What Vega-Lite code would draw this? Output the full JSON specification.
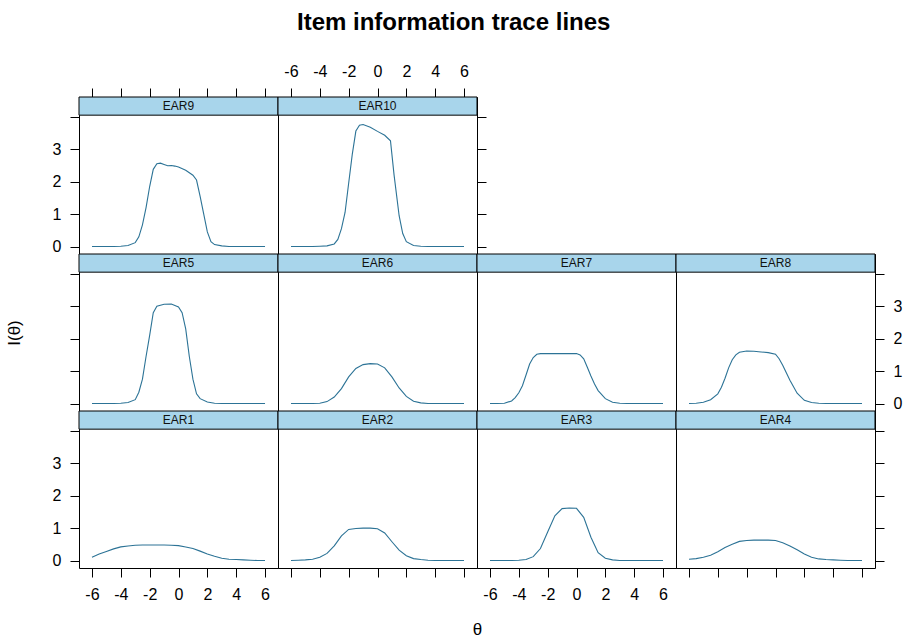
{
  "$schema": "https://vega.github.io/schema/vega-lite/v6.json",
  "background": "white",
  "padding": {"left": 5, "top": 10, "right": 5, "bottom": 0},
  "title": {"text": "Item information trace lines", "font": "Liberation Sans", "fontSize": 24, "fontWeight": "bold", "color": "#000", "anchor": "middle", "offset": 28},
  "columns": 4,
  "spacing": 0,
  "bounds": "flush",
  "config": {
    "view": {"stroke": "#000", "strokeWidth": 1},
    "axis": {"domain": false, "grid": false, "ticks": true, "tickColor": "#000", "tickSize": 9, "tickWidth": 1, "labelFont": "Liberation Sans", "labelFontSize": 16, "labelColor": "#000", "labelPadding": 9, "labelFlush": false, "labelOverlap": false, "titleFont": "Liberation Sans", "titleFontSize": 17, "titleFontWeight": "normal", "titleColor": "#000"}
  },
  "datasets": {
    "strips": [{"item": "EAR1"}, {"item": "EAR2"}, {"item": "EAR3"}, {"item": "EAR4"}, {"item": "EAR5"}, {"item": "EAR6"}, {"item": "EAR7"}, {"item": "EAR8"}, {"item": "EAR9"}, {"item": "EAR10"}],
    "info": [
      {"item":"EAR1","theta":-6,"info":0.10},{"item":"EAR1","theta":-5.5,"info":0.20},{"item":"EAR1","theta":-5,"info":0.28},{"item":"EAR1","theta":-4.5,"info":0.36},{"item":"EAR1","theta":-4,"info":0.42},{"item":"EAR1","theta":-3.5,"info":0.45},{"item":"EAR1","theta":-3,"info":0.47},{"item":"EAR1","theta":-2.5,"info":0.48},{"item":"EAR1","theta":-2,"info":0.48},{"item":"EAR1","theta":-1.5,"info":0.48},{"item":"EAR1","theta":-1,"info":0.48},{"item":"EAR1","theta":-0.5,"info":0.47},{"item":"EAR1","theta":0,"info":0.46},{"item":"EAR1","theta":0.5,"info":0.42},{"item":"EAR1","theta":1,"info":0.37},{"item":"EAR1","theta":1.5,"info":0.29},{"item":"EAR1","theta":2,"info":0.20},{"item":"EAR1","theta":2.5,"info":0.13},{"item":"EAR1","theta":3,"info":0.07},{"item":"EAR1","theta":3.5,"info":0.04},{"item":"EAR1","theta":4,"info":0.03},{"item":"EAR1","theta":4.5,"info":0.02},{"item":"EAR1","theta":5,"info":0.01},{"item":"EAR1","theta":5.5,"info":0.0},{"item":"EAR1","theta":6,"info":0.0},
      {"item":"EAR2","theta":-6,"info":0},{"item":"EAR2","theta":-5.5,"info":0.01},{"item":"EAR2","theta":-5,"info":0.02},{"item":"EAR2","theta":-4.5,"info":0.04},{"item":"EAR2","theta":-4,"info":0.10},{"item":"EAR2","theta":-3.5,"info":0.22},{"item":"EAR2","theta":-3,"info":0.45},{"item":"EAR2","theta":-2.5,"info":0.76},{"item":"EAR2","theta":-2,"info":0.96},{"item":"EAR2","theta":-1.5,"info":0.99},{"item":"EAR2","theta":-1,"info":1.0},{"item":"EAR2","theta":-0.5,"info":1.0},{"item":"EAR2","theta":0,"info":0.98},{"item":"EAR2","theta":0.5,"info":0.85},{"item":"EAR2","theta":1,"info":0.58},{"item":"EAR2","theta":1.5,"info":0.32},{"item":"EAR2","theta":2,"info":0.15},{"item":"EAR2","theta":2.5,"info":0.06},{"item":"EAR2","theta":3,"info":0.03},{"item":"EAR2","theta":3.5,"info":0.01},{"item":"EAR2","theta":4,"info":0},{"item":"EAR2","theta":4.5,"info":0},{"item":"EAR2","theta":5,"info":0},{"item":"EAR2","theta":5.5,"info":0},{"item":"EAR2","theta":6,"info":0},
      {"item":"EAR3","theta":-6,"info":0},{"item":"EAR3","theta":-5.5,"info":0},{"item":"EAR3","theta":-5,"info":0},{"item":"EAR3","theta":-4.5,"info":0},{"item":"EAR3","theta":-4,"info":0.01},{"item":"EAR3","theta":-3.5,"info":0.03},{"item":"EAR3","theta":-3,"info":0.12},{"item":"EAR3","theta":-2.5,"info":0.37},{"item":"EAR3","theta":-2,"info":0.88},{"item":"EAR3","theta":-1.5,"info":1.38},{"item":"EAR3","theta":-1,"info":1.60},{"item":"EAR3","theta":-0.5,"info":1.62},{"item":"EAR3","theta":0,"info":1.61},{"item":"EAR3","theta":0.5,"info":1.33},{"item":"EAR3","theta":1,"info":0.72},{"item":"EAR3","theta":1.5,"info":0.24},{"item":"EAR3","theta":2,"info":0.07},{"item":"EAR3","theta":2.5,"info":0.02},{"item":"EAR3","theta":3,"info":0},{"item":"EAR3","theta":3.5,"info":0},{"item":"EAR3","theta":4,"info":0},{"item":"EAR3","theta":4.5,"info":0},{"item":"EAR3","theta":5,"info":0},{"item":"EAR3","theta":5.5,"info":0},{"item":"EAR3","theta":6,"info":0},
      {"item":"EAR4","theta":-6,"info":0.04},{"item":"EAR4","theta":-5.5,"info":0.06},{"item":"EAR4","theta":-5,"info":0.10},{"item":"EAR4","theta":-4.5,"info":0.16},{"item":"EAR4","theta":-4,"info":0.27},{"item":"EAR4","theta":-3.5,"info":0.40},{"item":"EAR4","theta":-3,"info":0.50},{"item":"EAR4","theta":-2.5,"info":0.59},{"item":"EAR4","theta":-2,"info":0.62},{"item":"EAR4","theta":-1.5,"info":0.63},{"item":"EAR4","theta":-1,"info":0.63},{"item":"EAR4","theta":-0.5,"info":0.63},{"item":"EAR4","theta":0,"info":0.62},{"item":"EAR4","theta":0.5,"info":0.55},{"item":"EAR4","theta":1,"info":0.45},{"item":"EAR4","theta":1.5,"info":0.33},{"item":"EAR4","theta":2,"info":0.20},{"item":"EAR4","theta":2.5,"info":0.10},{"item":"EAR4","theta":3,"info":0.05},{"item":"EAR4","theta":3.5,"info":0.03},{"item":"EAR4","theta":4,"info":0.02},{"item":"EAR4","theta":4.5,"info":0.01},{"item":"EAR4","theta":5,"info":0},{"item":"EAR4","theta":5.5,"info":0},{"item":"EAR4","theta":6,"info":0},
      {"item":"EAR5","theta":-6,"info":0},{"item":"EAR5","theta":-5.5,"info":0},{"item":"EAR5","theta":-5,"info":0},{"item":"EAR5","theta":-4.5,"info":0},{"item":"EAR5","theta":-4,"info":0.01},{"item":"EAR5","theta":-3.5,"info":0.03},{"item":"EAR5","theta":-3,"info":0.12},{"item":"EAR5","theta":-2.75,"info":0.35},{"item":"EAR5","theta":-2.5,"info":0.75},{"item":"EAR5","theta":-2.25,"info":1.45},{"item":"EAR5","theta":-2,"info":2.10},{"item":"EAR5","theta":-1.75,"info":2.80},{"item":"EAR5","theta":-1.5,"info":3.00},{"item":"EAR5","theta":-1,"info":3.06},{"item":"EAR5","theta":-0.5,"info":3.07},{"item":"EAR5","theta":0,"info":2.98},{"item":"EAR5","theta":0.25,"info":2.80},{"item":"EAR5","theta":0.5,"info":2.30},{"item":"EAR5","theta":0.75,"info":1.45},{"item":"EAR5","theta":1,"info":0.75},{"item":"EAR5","theta":1.25,"info":0.30},{"item":"EAR5","theta":1.5,"info":0.15},{"item":"EAR5","theta":2,"info":0.05},{"item":"EAR5","theta":2.5,"info":0.01},{"item":"EAR5","theta":3,"info":0},{"item":"EAR5","theta":3.5,"info":0},{"item":"EAR5","theta":4,"info":0},{"item":"EAR5","theta":4.5,"info":0},{"item":"EAR5","theta":5,"info":0},{"item":"EAR5","theta":5.5,"info":0},{"item":"EAR5","theta":6,"info":0},
      {"item":"EAR6","theta":-6,"info":0},{"item":"EAR6","theta":-5.5,"info":0},{"item":"EAR6","theta":-5,"info":0},{"item":"EAR6","theta":-4.5,"info":0},{"item":"EAR6","theta":-4,"info":0.01},{"item":"EAR6","theta":-3.5,"info":0.06},{"item":"EAR6","theta":-3,"info":0.20},{"item":"EAR6","theta":-2.5,"info":0.46},{"item":"EAR6","theta":-2,"info":0.82},{"item":"EAR6","theta":-1.5,"info":1.08},{"item":"EAR6","theta":-1,"info":1.20},{"item":"EAR6","theta":-0.5,"info":1.23},{"item":"EAR6","theta":0,"info":1.22},{"item":"EAR6","theta":0.5,"info":1.10},{"item":"EAR6","theta":1,"info":0.82},{"item":"EAR6","theta":1.5,"info":0.48},{"item":"EAR6","theta":2,"info":0.22},{"item":"EAR6","theta":2.5,"info":0.07},{"item":"EAR6","theta":3,"info":0.02},{"item":"EAR6","theta":3.5,"info":0},{"item":"EAR6","theta":4,"info":0},{"item":"EAR6","theta":4.5,"info":0},{"item":"EAR6","theta":5,"info":0},{"item":"EAR6","theta":5.5,"info":0},{"item":"EAR6","theta":6,"info":0},
      {"item":"EAR7","theta":-6,"info":0},{"item":"EAR7","theta":-5.5,"info":0},{"item":"EAR7","theta":-5,"info":0.01},{"item":"EAR7","theta":-4.5,"info":0.08},{"item":"EAR7","theta":-4.25,"info":0.18},{"item":"EAR7","theta":-4,"info":0.33},{"item":"EAR7","theta":-3.75,"info":0.55},{"item":"EAR7","theta":-3.5,"info":0.88},{"item":"EAR7","theta":-3.25,"info":1.22},{"item":"EAR7","theta":-3,"info":1.42},{"item":"EAR7","theta":-2.75,"info":1.52},{"item":"EAR7","theta":-2.5,"info":1.54},{"item":"EAR7","theta":-2,"info":1.54},{"item":"EAR7","theta":-1.5,"info":1.54},{"item":"EAR7","theta":-1,"info":1.54},{"item":"EAR7","theta":-0.5,"info":1.54},{"item":"EAR7","theta":0,"info":1.54},{"item":"EAR7","theta":0.25,"info":1.50},{"item":"EAR7","theta":0.5,"info":1.38},{"item":"EAR7","theta":0.75,"info":1.12},{"item":"EAR7","theta":1,"info":0.85},{"item":"EAR7","theta":1.25,"info":0.60},{"item":"EAR7","theta":1.5,"info":0.40},{"item":"EAR7","theta":2,"info":0.15},{"item":"EAR7","theta":2.5,"info":0.04},{"item":"EAR7","theta":3,"info":0.01},{"item":"EAR7","theta":3.5,"info":0},{"item":"EAR7","theta":4,"info":0},{"item":"EAR7","theta":4.5,"info":0},{"item":"EAR7","theta":5,"info":0},{"item":"EAR7","theta":5.5,"info":0},{"item":"EAR7","theta":6,"info":0},
      {"item":"EAR8","theta":-6,"info":0},{"item":"EAR8","theta":-5.5,"info":0.01},{"item":"EAR8","theta":-5,"info":0.04},{"item":"EAR8","theta":-4.5,"info":0.12},{"item":"EAR8","theta":-4,"info":0.30},{"item":"EAR8","theta":-3.75,"info":0.50},{"item":"EAR8","theta":-3.5,"info":0.78},{"item":"EAR8","theta":-3.25,"info":1.10},{"item":"EAR8","theta":-3,"info":1.35},{"item":"EAR8","theta":-2.75,"info":1.50},{"item":"EAR8","theta":-2.5,"info":1.58},{"item":"EAR8","theta":-2,"info":1.62},{"item":"EAR8","theta":-1.5,"info":1.61},{"item":"EAR8","theta":-1,"info":1.59},{"item":"EAR8","theta":-0.5,"info":1.57},{"item":"EAR8","theta":0,"info":1.52},{"item":"EAR8","theta":0.25,"info":1.38},{"item":"EAR8","theta":0.5,"info":1.18},{"item":"EAR8","theta":0.75,"info":0.95},{"item":"EAR8","theta":1,"info":0.72},{"item":"EAR8","theta":1.5,"info":0.32},{"item":"EAR8","theta":2,"info":0.10},{"item":"EAR8","theta":2.5,"info":0.03},{"item":"EAR8","theta":3,"info":0.01},{"item":"EAR8","theta":3.5,"info":0},{"item":"EAR8","theta":4,"info":0},{"item":"EAR8","theta":4.5,"info":0},{"item":"EAR8","theta":5,"info":0},{"item":"EAR8","theta":5.5,"info":0},{"item":"EAR8","theta":6,"info":0},
      {"item":"EAR9","theta":-6,"info":0},{"item":"EAR9","theta":-5.5,"info":0},{"item":"EAR9","theta":-5,"info":0},{"item":"EAR9","theta":-4.5,"info":0},{"item":"EAR9","theta":-4,"info":0.01},{"item":"EAR9","theta":-3.5,"info":0.03},{"item":"EAR9","theta":-3,"info":0.12},{"item":"EAR9","theta":-2.75,"info":0.30},{"item":"EAR9","theta":-2.5,"info":0.67},{"item":"EAR9","theta":-2.25,"info":1.20},{"item":"EAR9","theta":-2,"info":1.85},{"item":"EAR9","theta":-1.75,"info":2.38},{"item":"EAR9","theta":-1.5,"info":2.55},{"item":"EAR9","theta":-1.25,"info":2.57},{"item":"EAR9","theta":-1,"info":2.53},{"item":"EAR9","theta":-0.75,"info":2.49},{"item":"EAR9","theta":-0.5,"info":2.50},{"item":"EAR9","theta":-0.25,"info":2.48},{"item":"EAR9","theta":0,"info":2.45},{"item":"EAR9","theta":0.5,"info":2.35},{"item":"EAR9","theta":1,"info":2.20},{"item":"EAR9","theta":1.25,"info":2.05},{"item":"EAR9","theta":1.5,"info":1.55},{"item":"EAR9","theta":1.75,"info":1.00},{"item":"EAR9","theta":2,"info":0.45},{"item":"EAR9","theta":2.25,"info":0.15},{"item":"EAR9","theta":2.5,"info":0.06},{"item":"EAR9","theta":3,"info":0.02},{"item":"EAR9","theta":3.5,"info":0},{"item":"EAR9","theta":4,"info":0},{"item":"EAR9","theta":4.5,"info":0},{"item":"EAR9","theta":5,"info":0},{"item":"EAR9","theta":5.5,"info":0},{"item":"EAR9","theta":6,"info":0},
      {"item":"EAR10","theta":-6,"info":0},{"item":"EAR10","theta":-5.5,"info":0},{"item":"EAR10","theta":-5,"info":0},{"item":"EAR10","theta":-4.5,"info":0},{"item":"EAR10","theta":-4,"info":0.01},{"item":"EAR10","theta":-3.5,"info":0.02},{"item":"EAR10","theta":-3,"info":0.08},{"item":"EAR10","theta":-2.75,"info":0.22},{"item":"EAR10","theta":-2.5,"info":0.55},{"item":"EAR10","theta":-2.25,"info":1.05},{"item":"EAR10","theta":-2,"info":1.95},{"item":"EAR10","theta":-1.75,"info":2.84},{"item":"EAR10","theta":-1.5,"info":3.56},{"item":"EAR10","theta":-1.25,"info":3.74},{"item":"EAR10","theta":-1,"info":3.76},{"item":"EAR10","theta":-0.5,"info":3.68},{"item":"EAR10","theta":0,"info":3.55},{"item":"EAR10","theta":0.5,"info":3.43},{"item":"EAR10","theta":0.9,"info":3.26},{"item":"EAR10","theta":1.15,"info":2.20},{"item":"EAR10","theta":1.5,"info":0.95},{"item":"EAR10","theta":1.75,"info":0.40},{"item":"EAR10","theta":2,"info":0.15},{"item":"EAR10","theta":2.5,"info":0.03},{"item":"EAR10","theta":3,"info":0.01},{"item":"EAR10","theta":3.5,"info":0},{"item":"EAR10","theta":4,"info":0},{"item":"EAR10","theta":4.5,"info":0},{"item":"EAR10","theta":5,"info":0},{"item":"EAR10","theta":5.5,"info":0},{"item":"EAR10","theta":6,"info":0}
    ]
  },
  "concat": [
    {"width": 199, "height": 157, "layer": [
      {"data": {"name": "info"}, "transform": [{"filter": {"field": "item", "equal": "EAR9"}}], "mark": {"type": "line", "color": "#2c7396", "strokeWidth": 1.1}, "encoding": {
        "x": {"field": "theta", "type": "quantitative", "scale": {"domain": [-6.9, 6.9], "nice": false, "zero": false}, "axis": {"orient": "top", "values": [-6, -4, -2, 0, 2, 4, 6], "labels": false, "title": null}},
        "y": {"field": "info", "type": "quantitative", "scale": {"domain": [-0.23, 4.61], "nice": false, "zero": false}, "axis": {"orient": "left", "values": [0, 1, 2, 3, 4], "labelExpr": "datum.value == 4 ? '' : datum.label", "title": null}}}},
      {"data": {"name": "strips"}, "transform": [{"filter": {"field": "item", "equal": "EAR9"}}], "mark": {"type": "rect", "fill": "#a8d5eb", "stroke": "#000", "strokeWidth": 1}, "encoding": {"y": {"datum": 4.05, "type": "quantitative", "scale": {"domain": [-0.23, 4.61], "nice": false, "zero": false}, "axis": {"orient": "left", "values": [0, 1, 2, 3, 4], "labelExpr": "datum.value == 4 ? '' : datum.label", "title": null}}, "y2": {"datum": 4.61}}},
      {"data": {"name": "strips"}, "transform": [{"filter": {"field": "item", "equal": "EAR9"}}], "mark": {"type": "text", "font": "Liberation Sans", "fontSize": 12, "color": "#111"}, "encoding": {"y": {"datum": 4.33, "type": "quantitative", "scale": {"domain": [-0.23, 4.61], "nice": false, "zero": false}, "axis": {"orient": "left", "values": [0, 1, 2, 3, 4], "labelExpr": "datum.value == 4 ? '' : datum.label", "title": null}}, "text": {"field": "item"}}}
    ]},
    {"width": 199, "height": 157, "layer": [
      {"data": {"name": "info"}, "transform": [{"filter": {"field": "item", "equal": "EAR10"}}], "mark": {"type": "line", "color": "#2c7396", "strokeWidth": 1.1}, "encoding": {
        "x": {"field": "theta", "type": "quantitative", "scale": {"domain": [-6.9, 6.9], "nice": false, "zero": false}, "axis": {"orient": "top", "values": [-6, -4, -2, 0, 2, 4, 6], "labelExpr": "replace(datum.label, '−', '-')", "title": null}},
        "y": {"field": "info", "type": "quantitative", "scale": {"domain": [-0.23, 4.61], "nice": false, "zero": false}, "axis": {"orient": "right", "values": [0, 1, 2, 3, 4], "labels": false, "title": null}}}},
      {"data": {"name": "strips"}, "transform": [{"filter": {"field": "item", "equal": "EAR10"}}], "mark": {"type": "rect", "fill": "#a8d5eb", "stroke": "#000", "strokeWidth": 1}, "encoding": {"y": {"datum": 4.05, "type": "quantitative", "scale": {"domain": [-0.23, 4.61], "nice": false, "zero": false}, "axis": {"orient": "right", "values": [0, 1, 2, 3, 4], "labels": false, "title": null}}, "y2": {"datum": 4.61}}},
      {"data": {"name": "strips"}, "transform": [{"filter": {"field": "item", "equal": "EAR10"}}], "mark": {"type": "text", "font": "Liberation Sans", "fontSize": 12, "color": "#111"}, "encoding": {"y": {"datum": 4.33, "type": "quantitative", "scale": {"domain": [-0.23, 4.61], "nice": false, "zero": false}, "axis": {"orient": "right", "values": [0, 1, 2, 3, 4], "labels": false, "title": null}}, "text": {"field": "item"}}}
    ]},
    {"width": 199, "height": 157, "view": {"stroke": null}, "data": {"values": [{"item": "blank"}]}, "mark": {"type": "point", "opacity": 0}},
    {"width": 199, "height": 157, "view": {"stroke": null}, "data": {"values": [{"item": "blank"}]}, "mark": {"type": "point", "opacity": 0}},
    {"width": 199, "height": 157, "layer": [
      {"data": {"name": "info"}, "transform": [{"filter": {"field": "item", "equal": "EAR5"}}], "mark": {"type": "line", "color": "#2c7396", "strokeWidth": 1.1}, "encoding": {
        "x": {"field": "theta", "type": "quantitative", "scale": {"domain": [-6.9, 6.9], "nice": false, "zero": false}, "axis": null},
        "y": {"field": "info", "type": "quantitative", "scale": {"domain": [-0.23, 4.61], "nice": false, "zero": false}, "axis": {"orient": "left", "values": [0, 1, 2, 3, 4], "labels": false, "title": "I(θ)", "titlePadding": 46}}}},
      {"data": {"name": "strips"}, "transform": [{"filter": {"field": "item", "equal": "EAR5"}}], "mark": {"type": "rect", "fill": "#a8d5eb", "stroke": "#000", "strokeWidth": 1}, "encoding": {"y": {"datum": 4.05, "type": "quantitative", "scale": {"domain": [-0.23, 4.61], "nice": false, "zero": false}, "axis": {"orient": "left", "values": [0, 1, 2, 3, 4], "labels": false, "title": "I(θ)", "titlePadding": 46}}, "y2": {"datum": 4.61}}},
      {"data": {"name": "strips"}, "transform": [{"filter": {"field": "item", "equal": "EAR5"}}], "mark": {"type": "text", "font": "Liberation Sans", "fontSize": 12, "color": "#111"}, "encoding": {"y": {"datum": 4.33, "type": "quantitative", "scale": {"domain": [-0.23, 4.61], "nice": false, "zero": false}, "axis": {"orient": "left", "values": [0, 1, 2, 3, 4], "labels": false, "title": "I(θ)", "titlePadding": 46}}, "text": {"field": "item"}}}
    ]},
    {"width": 199, "height": 157, "layer": [
      {"data": {"name": "info"}, "transform": [{"filter": {"field": "item", "equal": "EAR6"}}], "mark": {"type": "line", "color": "#2c7396", "strokeWidth": 1.1}, "encoding": {
        "x": {"field": "theta", "type": "quantitative", "scale": {"domain": [-6.9, 6.9], "nice": false, "zero": false}, "axis": null},
        "y": {"field": "info", "type": "quantitative", "scale": {"domain": [-0.23, 4.61], "nice": false, "zero": false}, "axis": null}}},
      {"data": {"name": "strips"}, "transform": [{"filter": {"field": "item", "equal": "EAR6"}}], "mark": {"type": "rect", "fill": "#a8d5eb", "stroke": "#000", "strokeWidth": 1}, "encoding": {"y": {"datum": 4.05, "type": "quantitative", "scale": {"domain": [-0.23, 4.61], "nice": false, "zero": false}, "axis": null}, "y2": {"datum": 4.61}}},
      {"data": {"name": "strips"}, "transform": [{"filter": {"field": "item", "equal": "EAR6"}}], "mark": {"type": "text", "font": "Liberation Sans", "fontSize": 12, "color": "#111"}, "encoding": {"y": {"datum": 4.33, "type": "quantitative", "scale": {"domain": [-0.23, 4.61], "nice": false, "zero": false}, "axis": null}, "text": {"field": "item"}}}
    ]},
    {"width": 199, "height": 157, "layer": [
      {"data": {"name": "info"}, "transform": [{"filter": {"field": "item", "equal": "EAR7"}}], "mark": {"type": "line", "color": "#2c7396", "strokeWidth": 1.1}, "encoding": {
        "x": {"field": "theta", "type": "quantitative", "scale": {"domain": [-6.9, 6.9], "nice": false, "zero": false}, "axis": null},
        "y": {"field": "info", "type": "quantitative", "scale": {"domain": [-0.23, 4.61], "nice": false, "zero": false}, "axis": null}}},
      {"data": {"name": "strips"}, "transform": [{"filter": {"field": "item", "equal": "EAR7"}}], "mark": {"type": "rect", "fill": "#a8d5eb", "stroke": "#000", "strokeWidth": 1}, "encoding": {"y": {"datum": 4.05, "type": "quantitative", "scale": {"domain": [-0.23, 4.61], "nice": false, "zero": false}, "axis": null}, "y2": {"datum": 4.61}}},
      {"data": {"name": "strips"}, "transform": [{"filter": {"field": "item", "equal": "EAR7"}}], "mark": {"type": "text", "font": "Liberation Sans", "fontSize": 12, "color": "#111"}, "encoding": {"y": {"datum": 4.33, "type": "quantitative", "scale": {"domain": [-0.23, 4.61], "nice": false, "zero": false}, "axis": null}, "text": {"field": "item"}}}
    ]},
    {"width": 199, "height": 157, "layer": [
      {"data": {"name": "info"}, "transform": [{"filter": {"field": "item", "equal": "EAR8"}}], "mark": {"type": "line", "color": "#2c7396", "strokeWidth": 1.1}, "encoding": {
        "x": {"field": "theta", "type": "quantitative", "scale": {"domain": [-6.9, 6.9], "nice": false, "zero": false}, "axis": null},
        "y": {"field": "info", "type": "quantitative", "scale": {"domain": [-0.23, 4.61], "nice": false, "zero": false}, "axis": {"orient": "right", "values": [0, 1, 2, 3, 4], "labelExpr": "datum.value == 4 ? '' : datum.label", "title": null}}}},
      {"data": {"name": "strips"}, "transform": [{"filter": {"field": "item", "equal": "EAR8"}}], "mark": {"type": "rect", "fill": "#a8d5eb", "stroke": "#000", "strokeWidth": 1}, "encoding": {"y": {"datum": 4.05, "type": "quantitative", "scale": {"domain": [-0.23, 4.61], "nice": false, "zero": false}, "axis": {"orient": "right", "values": [0, 1, 2, 3, 4], "labelExpr": "datum.value == 4 ? '' : datum.label", "title": null}}, "y2": {"datum": 4.61}}},
      {"data": {"name": "strips"}, "transform": [{"filter": {"field": "item", "equal": "EAR8"}}], "mark": {"type": "text", "font": "Liberation Sans", "fontSize": 12, "color": "#111"}, "encoding": {"y": {"datum": 4.33, "type": "quantitative", "scale": {"domain": [-0.23, 4.61], "nice": false, "zero": false}, "axis": {"orient": "right", "values": [0, 1, 2, 3, 4], "labelExpr": "datum.value == 4 ? '' : datum.label", "title": null}}, "text": {"field": "item"}}}
    ]},
    {"width": 199, "height": 157, "layer": [
      {"data": {"name": "info"}, "transform": [{"filter": {"field": "item", "equal": "EAR1"}}], "mark": {"type": "line", "color": "#2c7396", "strokeWidth": 1.1}, "encoding": {
        "x": {"field": "theta", "type": "quantitative", "scale": {"domain": [-6.9, 6.9], "nice": false, "zero": false}, "axis": {"orient": "bottom", "values": [-6, -4, -2, 0, 2, 4, 6], "labelExpr": "replace(datum.label, '−', '-')", "title": null}},
        "y": {"field": "info", "type": "quantitative", "scale": {"domain": [-0.23, 4.61], "nice": false, "zero": false}, "axis": {"orient": "left", "values": [0, 1, 2, 3, 4], "labelExpr": "datum.value == 4 ? '' : datum.label", "title": null}}}},
      {"data": {"name": "strips"}, "transform": [{"filter": {"field": "item", "equal": "EAR1"}}], "mark": {"type": "rect", "fill": "#a8d5eb", "stroke": "#000", "strokeWidth": 1}, "encoding": {"y": {"datum": 4.05, "type": "quantitative", "scale": {"domain": [-0.23, 4.61], "nice": false, "zero": false}, "axis": {"orient": "left", "values": [0, 1, 2, 3, 4], "labelExpr": "datum.value == 4 ? '' : datum.label", "title": null}}, "y2": {"datum": 4.61}}},
      {"data": {"name": "strips"}, "transform": [{"filter": {"field": "item", "equal": "EAR1"}}], "mark": {"type": "text", "font": "Liberation Sans", "fontSize": 12, "color": "#111"}, "encoding": {"y": {"datum": 4.33, "type": "quantitative", "scale": {"domain": [-0.23, 4.61], "nice": false, "zero": false}, "axis": {"orient": "left", "values": [0, 1, 2, 3, 4], "labelExpr": "datum.value == 4 ? '' : datum.label", "title": null}}, "text": {"field": "item"}}}
    ]},
    {"width": 199, "height": 157, "layer": [
      {"data": {"name": "info"}, "transform": [{"filter": {"field": "item", "equal": "EAR2"}}], "mark": {"type": "line", "color": "#2c7396", "strokeWidth": 1.1}, "encoding": {
        "x": {"field": "theta", "type": "quantitative", "scale": {"domain": [-6.9, 6.9], "nice": false, "zero": false}, "axis": {"orient": "bottom", "values": [-6, -4, -2, 0, 2, 4, 6], "labels": false, "title": "θ", "titleAnchor": "end", "titleAlign": "center", "titlePadding": 44}},
        "y": {"field": "info", "type": "quantitative", "scale": {"domain": [-0.23, 4.61], "nice": false, "zero": false}, "axis": null}}},
      {"data": {"name": "strips"}, "transform": [{"filter": {"field": "item", "equal": "EAR2"}}], "mark": {"type": "rect", "fill": "#a8d5eb", "stroke": "#000", "strokeWidth": 1}, "encoding": {"y": {"datum": 4.05, "type": "quantitative", "scale": {"domain": [-0.23, 4.61], "nice": false, "zero": false}, "axis": null}, "y2": {"datum": 4.61}}},
      {"data": {"name": "strips"}, "transform": [{"filter": {"field": "item", "equal": "EAR2"}}], "mark": {"type": "text", "font": "Liberation Sans", "fontSize": 12, "color": "#111"}, "encoding": {"y": {"datum": 4.33, "type": "quantitative", "scale": {"domain": [-0.23, 4.61], "nice": false, "zero": false}, "axis": null}, "text": {"field": "item"}}}
    ]},
    {"width": 199, "height": 157, "layer": [
      {"data": {"name": "info"}, "transform": [{"filter": {"field": "item", "equal": "EAR3"}}], "mark": {"type": "line", "color": "#2c7396", "strokeWidth": 1.1}, "encoding": {
        "x": {"field": "theta", "type": "quantitative", "scale": {"domain": [-6.9, 6.9], "nice": false, "zero": false}, "axis": {"orient": "bottom", "values": [-6, -4, -2, 0, 2, 4, 6], "labelExpr": "replace(datum.label, '−', '-')", "title": null}},
        "y": {"field": "info", "type": "quantitative", "scale": {"domain": [-0.23, 4.61], "nice": false, "zero": false}, "axis": null}}},
      {"data": {"name": "strips"}, "transform": [{"filter": {"field": "item", "equal": "EAR3"}}], "mark": {"type": "rect", "fill": "#a8d5eb", "stroke": "#000", "strokeWidth": 1}, "encoding": {"y": {"datum": 4.05, "type": "quantitative", "scale": {"domain": [-0.23, 4.61], "nice": false, "zero": false}, "axis": null}, "y2": {"datum": 4.61}}},
      {"data": {"name": "strips"}, "transform": [{"filter": {"field": "item", "equal": "EAR3"}}], "mark": {"type": "text", "font": "Liberation Sans", "fontSize": 12, "color": "#111"}, "encoding": {"y": {"datum": 4.33, "type": "quantitative", "scale": {"domain": [-0.23, 4.61], "nice": false, "zero": false}, "axis": null}, "text": {"field": "item"}}}
    ]},
    {"width": 199, "height": 157, "layer": [
      {"data": {"name": "info"}, "transform": [{"filter": {"field": "item", "equal": "EAR4"}}], "mark": {"type": "line", "color": "#2c7396", "strokeWidth": 1.1}, "encoding": {
        "x": {"field": "theta", "type": "quantitative", "scale": {"domain": [-6.9, 6.9], "nice": false, "zero": false}, "axis": {"orient": "bottom", "values": [-6, -4, -2, 0, 2, 4, 6], "labels": false, "title": null}},
        "y": {"field": "info", "type": "quantitative", "scale": {"domain": [-0.23, 4.61], "nice": false, "zero": false}, "axis": {"orient": "right", "values": [0, 1, 2, 3, 4], "labels": false, "title": null}}}},
      {"data": {"name": "strips"}, "transform": [{"filter": {"field": "item", "equal": "EAR4"}}], "mark": {"type": "rect", "fill": "#a8d5eb", "stroke": "#000", "strokeWidth": 1}, "encoding": {"y": {"datum": 4.05, "type": "quantitative", "scale": {"domain": [-0.23, 4.61], "nice": false, "zero": false}, "axis": {"orient": "right", "values": [0, 1, 2, 3, 4], "labels": false, "title": null}}, "y2": {"datum": 4.61}}},
      {"data": {"name": "strips"}, "transform": [{"filter": {"field": "item", "equal": "EAR4"}}], "mark": {"type": "text", "font": "Liberation Sans", "fontSize": 12, "color": "#111"}, "encoding": {"y": {"datum": 4.33, "type": "quantitative", "scale": {"domain": [-0.23, 4.61], "nice": false, "zero": false}, "axis": {"orient": "right", "values": [0, 1, 2, 3, 4], "labels": false, "title": null}}, "text": {"field": "item"}}}
    ]}
  ]
}
